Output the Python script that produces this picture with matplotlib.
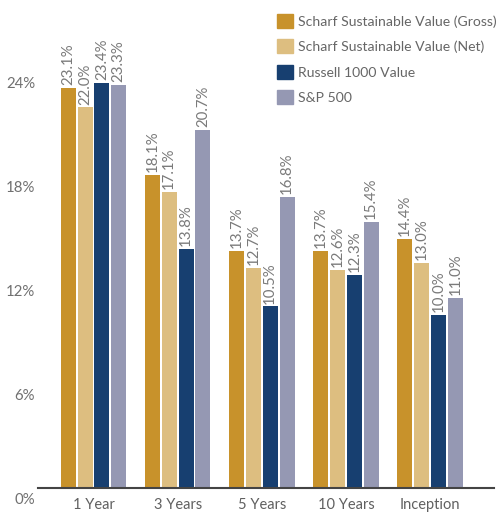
import matplotlib
matplotlib.use("Agg")
import matplotlib.pyplot as plt
import matplotlib.transforms as mtransforms
from matplotlib.patches import Patch
import numpy as np

plt.rcParams['font.family'] = ['Lato', 'DejaVu Sans']

# data
periods = ["1 Year", "3 Years", "5 Years", "10 Years", "Inception"]
series_names = ["Scharf Sustainable Value (Gross)", "Scharf Sustainable Value (Net)",
                "Russell 1000 Value", "S&P 500"]
gross = [23.1, 18.1, 13.7, 13.7, 14.4]
net = [22.0, 17.1, 12.7, 12.6, 13.0]
russell = [23.4, 13.8, 10.5, 12.3, 10.0]
sp500 = [23.3, 20.7, 16.8, 15.4, 11.0]
yticks = [0, 6, 12, 18, 24]

colors = ["#C8922B", "#DDBE80", "#173F70", "#9598B3"]
label_color = "#7A7A7A"

fig = plt.figure(figsize=(4.96, 5.12), dpi=100)
ax = fig.add_axes([38 / 496, 1 - 488 / 512, 456 / 496, 488 / 512])

x = np.arange(len(periods))
width = 0.178
offsets = [-0.3, -0.1, 0.1, 0.3]
for vals, off, c in zip([gross, net, russell, sp500], offsets, colors):
    ax.bar(x + off, vals, width=width, color=c, zorder=2)
    for xi, v in zip(x, vals):
        ax.annotate(f"{v:.1f}%", (xi + off, v), xytext=(0, 2), textcoords="offset points",
                    rotation=90, ha="center", va="bottom", fontsize=10.8,
                    color=label_color)

ax.set_xlim(-0.66, 4.76)
ax.set_ylim(0, 28.2)
ax.set_yticks(yticks)
ax.set_yticklabels([f"{t}%" for t in yticks], fontsize=10.8, color="#707070")
ax.set_xticks(x)
ax.set_xticklabels(periods, fontsize=10.5, color="#606060")
ax.tick_params(axis="both", length=0)
ax.tick_params(axis="x", pad=7)
ax.tick_params(axis="y", pad=2)

# y labels sit a bit below their values
shift = mtransforms.ScaledTranslation(0, -10 / 100, fig.dpi_scale_trans)
for lbl in ax.get_yticklabels():
    lbl.set_transform(lbl.get_transform() + shift)

for s in ["top", "right", "left"]:
    ax.spines[s].set_visible(False)
ax.spines["bottom"].set_color("#444444")
ax.spines["bottom"].set_linewidth(1.5)

handles = [Patch(color=c) for c in colors]
fig.legend(handles, series_names, loc="upper left",
           bbox_to_anchor=(277 / 496, 1 - 14 / 512), frameon=False,
           fontsize=10.1, handlelength=1.15, handleheight=1.15,
           labelspacing=0.82, handletextpad=0.32, borderpad=0,
           borderaxespad=0, labelcolor="#666666")

fig.savefig("out.png", dpi=100)
